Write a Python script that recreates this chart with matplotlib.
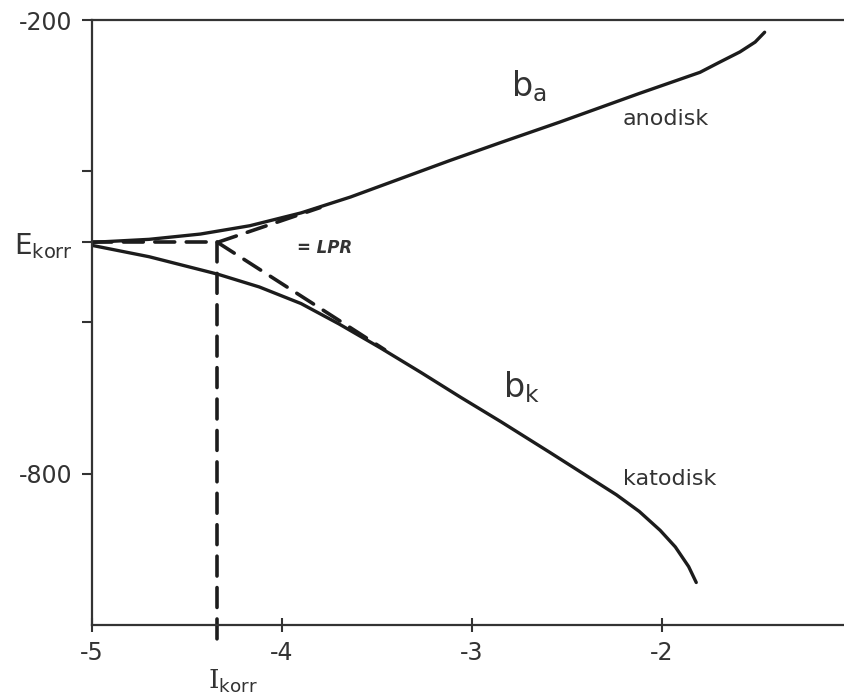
import matplotlib
matplotlib.use("Agg")
import matplotlib.pyplot as plt

# Polarisationskurve (Tafel), log I mot potensial (mV)
anodisk_x = [-5.0, -4.7, -4.43, -4.17, -3.9, -3.64, -3.38, -3.12, -2.85, -2.54,
             -2.33, -2.12, -1.8, -1.7, -1.59, -1.51, -1.46]
anodisk_e = [-494, -490, -483, -472, -455, -434, -410, -386, -362, -335,
             -316, -297, -269, -256, -242, -229, -216]

katodisk_x = [-5.0, -4.7, -4.34, -4.12, -3.9, -3.7, -3.48, -3.27, -3.06, -2.85,
              -2.59, -2.24, -2.12, -2.01, -1.93, -1.86, -1.82]
katodisk_e = [-498, -513, -536, -553, -575, -602, -634, -666, -699, -731,
              -772, -828, -850, -875, -897, -923, -944]

e_korr = -494
i_korr = -4.34
tangent_a = ([i_korr, -3.8], [e_korr, -448])
tangent_k = ([i_korr, -3.46], [e_korr, -636])

xticks = [-5, -4, -3, -2]
xtick_labels = ["-5", "-4", "-3", "-2"]
yticks = [-800, -600, e_korr, -400, -200]
ytick_labels = ["-800", "", r"$\mathrm{E}_{\mathrm{korr}}$", "", "-200"]

ink = "#1c1c1c"
txt = "#333333"

fig = plt.figure(figsize=(8.45, 6.95), dpi=100)
ax = fig.add_axes([0.109, 0.101, 0.891, 0.870])

ax.plot(anodisk_x, anodisk_e, color=ink, lw=2.4,
        solid_joinstyle="round", solid_capstyle="round")
ax.plot(katodisk_x, katodisk_e, color=ink, lw=2.4,
        solid_joinstyle="round", solid_capstyle="round")

dash = dict(color=ink, lw=2.6, dashes=(5.5, 3.2), dash_capstyle="round")
ax.plot([-5, i_korr], [e_korr, e_korr], **dash)
ax.plot([i_korr, i_korr], [e_korr, -1030], clip_on=False, **dash)
ax.plot(*tangent_a, **dash)
ax.plot(*tangent_k, **dash)

ax.set_xlim(-5, -1.037)
ax.set_ylim(-1000, -200)
ax.set_xticks(xticks)
ax.set_xticklabels(xtick_labels)
ax.set_yticks(yticks)
ax.set_yticklabels(ytick_labels)
ax.tick_params(axis="x", direction="inout", length=10, width=1.5,
               colors=txt, labelsize=17, pad=7)
ax.tick_params(axis="y", direction="out", length=7, width=1.5,
               colors=txt, labelsize=17, pad=7)
for lbl in ax.get_yticklabels():
    if "korr" in lbl.get_text():
        lbl.set_fontsize(20)

for side in ["left", "bottom", "top"]:
    ax.spines[side].set_linewidth(1.6)
    ax.spines[side].set_color(txt)
ax.spines["right"].set_visible(False)

# tekst i figuren
ax.text(-2.70, -287, r"$\mathrm{b}_{\mathrm{a}}$", fontsize=24, color=txt,
        ha="center", va="center")
ax.text(-1.98, -331, "anodisk", fontsize=16, color=txt, ha="center", va="center")
ax.text(-2.74, -685, r"$\mathrm{b}_{\mathrm{k}}$", fontsize=24, color=txt,
        ha="center", va="center")
ax.text(-1.96, -807, "katodisk", fontsize=16, color=txt, ha="center", va="center")
ax.text(-3.92, -501, "= LPR", fontsize=12, color=txt, style="italic",
        weight="bold", ha="left", va="center")
ax.text(i_korr + 0.08, -1075, r"$\mathrm{I}_{\mathsf{korr}}$", fontsize=19,
        color=txt, ha="center", va="center", math_fontfamily="dejavuserif")

fig.savefig("out.png", dpi=100)
